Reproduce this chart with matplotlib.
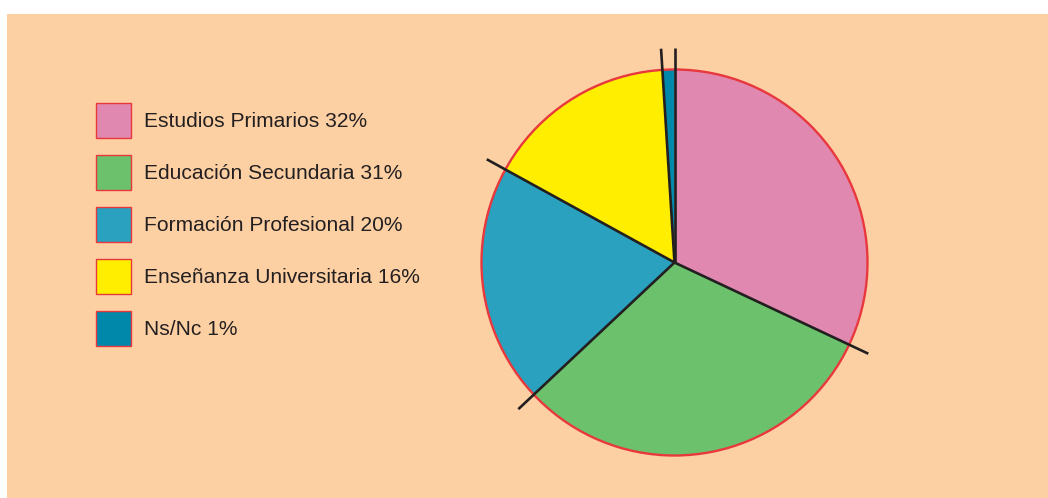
import numpy as np
import matplotlib
matplotlib.use("Agg")
import matplotlib.pyplot as plt
from matplotlib.patches import Rectangle, Circle, Patch

categories = ["Estudios Primarios", "Educación Secundaria", "Formación Profesional",
              "Enseñanza Universitaria", "Ns/Nc"]
values = [32, 31, 20, 16, 1]
colors = ["#E088B0", "#6CC16C", "#29A1BF", "#FFEE00", "#0088AA"]

W, H = 1048, 498
BG = "#FDD0A4"
RED = "#E8383D"
INK = "#231F20"

plt.rcParams['font.family'] = ['Liberation Sans', 'DejaVu Sans']

fig = plt.figure(figsize=(W / 100, H / 100), dpi=100)
fig.patch.set_facecolor("white")
fig.patches.append(Rectangle((7 / W, 0), 1 - 7 / W, 1 - 14 / H, transform=fig.transFigure,
                             facecolor=BG, edgecolor="none", zorder=-5))

ax = fig.add_axes([0, 0, 1, 1], zorder=1)
ax.patch.set_alpha(0)

cx, cy, r = 674.5, H - 262.5, 193
wedges, _ = ax.pie(values, colors=colors, startangle=90, counterclock=False,
                   center=(cx, cy), radius=r, frame=True,
                   wedgeprops=dict(edgecolor="none", linewidth=0))
ax.set_xlim(0, W)
ax.set_ylim(0, H)
ax.set_aspect("equal")
ax.axis("off")

ax.add_patch(Circle((cx, cy), r, facecolor="none", edgecolor=RED, linewidth=1.7, zorder=3))

for w in wedges:
    a = np.deg2rad(w.theta1)
    ax.plot([cx, cx + 1.11 * r * np.cos(a)], [cy, cy + 1.11 * r * np.sin(a)],
            color=INK, linewidth=1.9, solid_capstyle="butt", zorder=4)

handles = [Patch(facecolor=c, edgecolor=RED, linewidth=1.0) for c in colors]
labels = [f"{c} {v}%" for c, v in zip(categories, values)]
leg = fig.legend(handles, labels, loc="upper left",
                 bbox_to_anchor=(96 / W, 1 - 103 / H), bbox_transform=fig.transFigure,
                 frameon=False, fontsize=15.1, handlelength=1.67, handleheight=2.2,
                 handletextpad=0.6, labelspacing=0.8, borderpad=0, borderaxespad=0,
                 labelcolor=INK)
leg.set_zorder(5)

fig.savefig("out.png", dpi=100, facecolor=fig.get_facecolor())
